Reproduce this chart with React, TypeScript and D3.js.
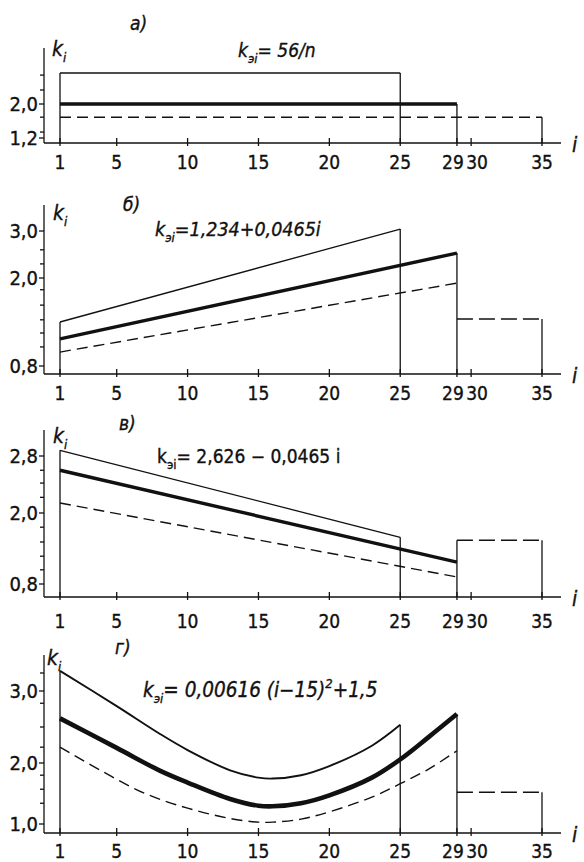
import React from 'react';
import * as d3 from 'd3';

// ---------- shared axis data ----------
const xTicks = [1, 5, 10, 15, 20, 25, 29, 30, 35];
const xTickLabels = ['1', '5', '10', '15', '20', '25', '29', '30', '35'];
const panelTitles = ['а)', 'б)', 'в)', 'г)'];

// ---------- panel а ----------
const aYTicks = [1.2, 2.0];
const aYTickLabels = ['1,2', '2,0'];
const aMinor = [1.34, 1.69, 2.33, 2.68];
const aThinI = [1, 25];
const aThinK = [2.73, 2.73];
const aThickI = [1, 29];
const aThickK = [2.0, 2.0];
const aDashI = [1, 35];
const aDashK = [1.69, 1.69];

// ---------- panel б ----------
const bYTicks = [0.8, 2.0, 3.0];
const bYTickLabels = ['0,8', '2,0', '3,0'];
const bMinor = [1.06, 1.25, 1.43, 1.63, 1.84, 2.3, 2.6];
const bThinI = [1, 25];
const bThinK = [1.4, 3.04];
const bThickI = [1, 29];
const bThickK = [1.17, 2.53];
const bDashI = [1, 29];
const bDashK = [0.99, 1.93];
const bBoxK = 1.44;

// ---------- panel в ----------
const cYTicks = [0.8, 2.0, 2.8];
const cYTickLabels = ['0,8', '2,0', '2,8'];
const cMinor = [1.04, 1.27, 1.51, 1.76, 2.22, 2.42, 2.6];
const cThinI = [1, 25];
const cThinK = [2.88, 1.59];
const cThickI = [1, 29];
const cThickK = [2.6, 1.17];
const cDashI = [1, 29];
const cDashK = [2.14, 0.92];
const cBoxK = 1.54;

// ---------- panel г ----------
const dYTicks = [1.0, 2.0, 3.0];
const dYTickLabels = ['1,0', '2,0', '3,0'];
const dMinor = [1.34, 1.57, 1.8, 2.22, 2.5, 2.83, 3.25];
const dThinI = [1, 5, 8, 10, 13, 15, 16, 18, 20, 23, 25];
const dThinK = [3.28, 2.79, 2.41, 2.18, 1.88, 1.76, 1.745, 1.8, 1.95, 2.24, 2.53];
const dThickI = [1, 5, 8, 10, 13, 15, 16, 18, 20, 23, 25, 27, 29];
const dThickK = [2.62, 2.21, 1.88, 1.68, 1.41, 1.3, 1.29, 1.34, 1.47, 1.76, 2.05, 2.36, 2.68];
const dDashI = [1, 4, 7, 10, 13, 15, 16, 18, 20, 23, 25, 27, 29];
const dDashK = [2.22, 1.86, 1.5, 1.26, 1.09, 1.03, 1.03, 1.08, 1.2, 1.44, 1.66, 1.9, 2.17];
const dBoxK = 1.52;

const formulaBodies = ['= 56/n', '=1,234+0,0465i', '= 2,626 − 0,0465 i', '= 0,00616 (i−15)'];

const FONT = "'DejaVu Sans Condensed','DejaVu Sans',sans-serif";
const INK = '#111';

const W = 584;
const H = 862;

const x = d3.scaleLinear().domain([1, 35]).range([60, 542]);

const zip = (is: number[], ks: number[]) => is.map((i, j) => [i, ks[j]] as [number, number]);

type Panel = {
  yTicks: number[];
  yLabels: string[];
  minor: number[];
  yRange: number[];
  axisY: number;
  yTop: number;
  labelDy: number;
  thin: [number, number][];
  thick: [number, number][];
  dash: [number, number][];
  box: number | null;
  titlePos: [number, number];
  kPos: [number, number];
  fPos: [number, number];
  fSize: number;
  fItalic: boolean;
  curved: boolean;
  thickW: number;
  thinW: number;
};

const panels: Panel[] = [
  {
    yTicks: aYTicks, yLabels: aYTickLabels, minor: aMinor, yRange: [138, 104],
    axisY: 143, yTop: 48, labelDy: 26,
    thin: zip(aThinI, aThinK), thick: zip(aThickI, aThickK), dash: zip(aDashI, aDashK), box: null,
    titlePos: [130, 30], kPos: [52, 56], fPos: [238, 57], fSize: 19, fItalic: true,
    curved: false, thickW: 3.4, thinW: 1.3,
  },
  {
    yTicks: bYTicks, yLabels: bYTickLabels, minor: bMinor, yRange: [366, 278, 231],
    axisY: 374, yTop: 205, labelDy: 26,
    thin: zip(bThinI, bThinK), thick: zip(bThickI, bThickK), dash: zip(bDashI, bDashK), box: bBoxK,
    titlePos: [123, 211], kPos: [53, 220], fPos: [155, 236], fSize: 19.5, fItalic: true,
    curved: false, thickW: 3.4, thinW: 1.3,
  },
  {
    yTicks: cYTicks, yLabels: cYTickLabels, minor: cMinor, yRange: [584, 513, 456],
    axisY: 597, yTop: 430, labelDy: 31,
    thin: zip(cThinI, cThinK), thick: zip(cThickI, cThickK), dash: zip(cDashI, cDashK), box: cBoxK,
    titlePos: [119, 430], kPos: [53, 443], fPos: [157, 463], fSize: 19, fItalic: false,
    curved: false, thickW: 3.4, thinW: 1.3,
  },
  {
    yTicks: dYTicks, yLabels: dYTickLabels, minor: dMinor, yRange: [824, 763, 691],
    axisY: 833, yTop: 655, labelDy: 25,
    thin: zip(dThinI, dThinK), thick: zip(dThickI, dThickK), dash: zip(dDashI, dDashK), box: dBoxK,
    titlePos: [115, 654], kPos: [47, 665], fPos: [143, 697], fSize: 20.5, fItalic: true,
    curved: true, thickW: 4.6, thinW: 1.9,
  },
];

const textStroke = { stroke: INK, strokeWidth: 0.35 };

function PanelView({ p, idx }: { p: Panel; idx: number }) {
  const y = d3.scaleLinear().domain(p.yTicks).range(p.yRange);
  const line = d3
    .line<[number, number]>()
    .x((d) => x(d[0]))
    .y((d) => y(d[1]))
    .curve(p.curved ? d3.curveCatmullRom.alpha(0.5) : d3.curveLinear);

  const thinFirst = p.thin[0];
  const thinLast = p.thin[p.thin.length - 1];
  const thickLast = p.thick[p.thick.length - 1];
  const dashLast = p.dash[p.dash.length - 1];
  const verticals: { i: number; k: number }[] = [
    { i: thinFirst[0], k: thinFirst[1] },
    { i: thinLast[0], k: thinLast[1] },
    { i: thickLast[0], k: p.box != null ? Math.max(thickLast[1], p.box) : thickLast[1] },
  ];
  if (p.box == null) verticals.push({ i: dashLast[0], k: dashLast[1] });
  else verticals.push({ i: 35, k: p.box });

  const axisLeft = 44;
  const axisRight = 561;
  const subSize = 13;

  return (
    <g>
      {/* title */}
      <text x={p.titlePos[0]} y={p.titlePos[1]} fontFamily={FONT} fontStyle="italic" fontSize={19} fill={INK} {...textStroke}>
        {panelTitles[idx]}
      </text>
      {/* axis label k_i */}
      <text x={p.kPos[0]} y={p.kPos[1]} fontFamily={FONT} fontStyle="italic" fontSize={21} fill={INK} {...textStroke}>
        k<tspan fontSize={subSize} dy={6}>i</tspan>
      </text>
      {/* formula */}
      <text
        x={p.fPos[0]}
        y={p.fPos[1]}
        fontFamily={FONT}
        fontStyle={p.fItalic ? 'italic' : 'normal'}
        fontSize={p.fSize}
        fill={INK}
        {...textStroke}
      >
        k<tspan fontSize={subSize} dy={6}>эi</tspan>
        <tspan dy={-6}>{formulaBodies[idx]}</tspan>
        {idx === 3 && (
          <>
            <tspan fontSize={subSize} dy={-9}>2</tspan>
            <tspan dy={9}>+1,5</tspan>
          </>
        )}
      </text>

      {/* y axis */}
      <line x1={axisLeft} x2={axisLeft} y1={p.yTop} y2={p.axisY} stroke={INK} strokeWidth={1.3} />
      {p.yTicks.map((t, j) => (
        <g key={'yt' + j}>
          <line x1={axisLeft - 5} x2={axisLeft} y1={y(t)} y2={y(t)} stroke={INK} strokeWidth={1.3} />
          <text
            x={38}
            y={y(t)}
            dy="0.36em"
            textAnchor="end"
            fontFamily={FONT}
            fontSize={20}
            fill={INK}
            {...textStroke}
          >
            {p.yLabels[j]}
          </text>
        </g>
      ))}
      {p.minor.map((t, j) => (
        <line key={'ym' + j} x1={axisLeft - 4} x2={axisLeft} y1={y(t)} y2={y(t)} stroke={INK} strokeWidth={1.3} />
      ))}

      {/* x axis */}
      <line x1={axisLeft} x2={axisRight} y1={p.axisY} y2={p.axisY} stroke={INK} strokeWidth={1.3} />
      {xTicks.map((t, j) => (
        <g key={'xt' + j}>
          <line x1={x(t)} x2={x(t)} y1={p.axisY - 5} y2={p.axisY + 3} stroke={INK} strokeWidth={1.3} />
          <text
            x={x(t) + (t === 29 ? -4 : t === 30 ? 6 : 0)}
            y={p.axisY + p.labelDy}
            textAnchor="middle"
            fontFamily={FONT}
            fontSize={19}
            fill={INK}
            {...textStroke}
          >
            {xTickLabels[j]}
          </text>
        </g>
      ))}
      <text x={572} y={p.axisY + 9} fontFamily={FONT} fontStyle="italic" fontSize={21} fill={INK} {...textStroke}>
        i
      </text>

      {/* verticals down to axis */}
      {verticals.map((v, j) => (
        <line
          key={'v' + j}
          x1={x(v.i)}
          x2={x(v.i)}
          y1={y(v.k)}
          y2={p.axisY}
          stroke={INK}
          strokeWidth={1.3}
        />
      ))}

      {/* series */}
      <path d={line(p.thin) || ''} fill="none" stroke={INK} strokeWidth={p.thinW} />
      <path d={line(p.dash) || ''} fill="none" stroke={INK} strokeWidth={1.4} strokeDasharray="11,6" />
      <path d={line(p.thick) || ''} fill="none" stroke={INK} strokeWidth={p.thickW} />
      {p.box != null && (
        <path
          d={line([[29, p.box], [35, p.box]]) || ''}
          fill="none"
          stroke={INK}
          strokeWidth={1.4}
          strokeDasharray="16,6"
        />
      )}
    </g>
  );
}

export default function App() {
  return (
    <svg
      width={W}
      height={H}
      viewBox={`0 0 ${W} ${H}`}
      style={{ position: 'absolute', left: 0, top: 0, background: '#fff', fontStretch: 'condensed' }}
    >
      <rect x={0} y={0} width={W} height={H} fill="#fff" />
      {panels.map((p, idx) => (
        <PanelView key={idx} p={p} idx={idx} />
      ))}
    </svg>
  );
}
